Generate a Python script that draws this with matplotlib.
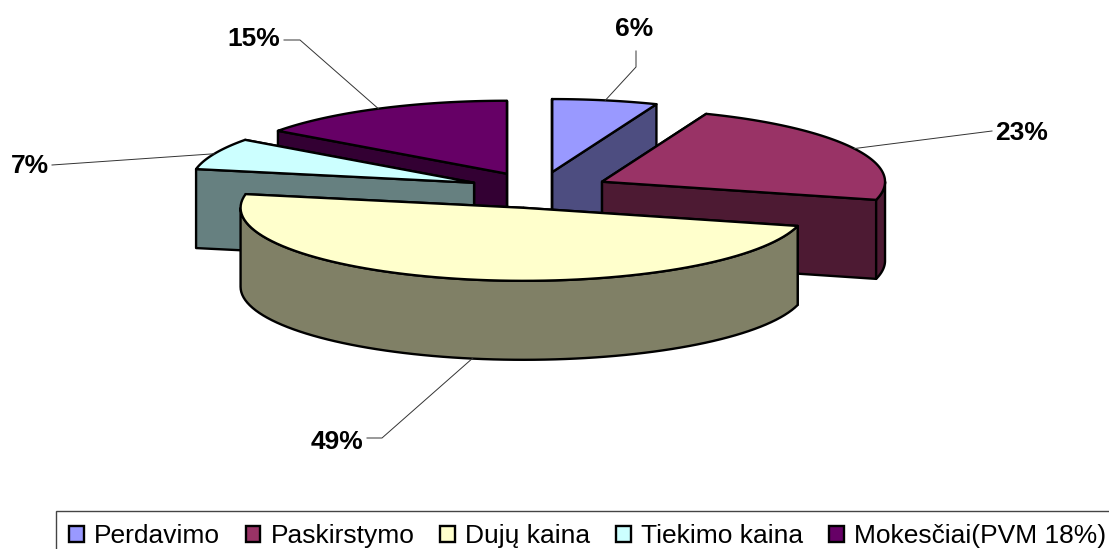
import numpy as np
import matplotlib
matplotlib.use('Agg')
import matplotlib.pyplot as plt
from matplotlib.patches import Polygon, Patch

plt.rcParams['font.family'] = ['Liberation Sans', 'DejaVu Sans']

categories = ['Perdavimo', 'Paskirstymo', 'Dujų kaina', 'Tiekimo kaina', 'Mokesčiai(PVM 18%)']
values = [6, 23, 49, 7, 15]
labels = ['6%', '23%', '49%', '7%', '15%']
top_colors = ['#9999FF', '#993366', '#FFFFCC', '#CCFFFF', '#660066']
side_colors = ['#4D4D80', '#4D1A33', '#808066', '#668080', '#330033']

# Geometria del pastel en pixeles de la figura
cx, cy = 539, 190
rx, ry = 283, 73
explode = 0.25
depth = 79

# Texto de cada etiqueta y el codo de su linea guia
label_pos = [(634, 29), (1022, 133), (337, 442), (30, 166), (254, 39)]
elbows = [[(636, 67), (636, 51)], [(992, 131)], [(382, 438), (367, 438)], [(52, 165)], [(300, 40), (284, 40)]]
guide_shift = [0, 0, 11, 0, 0]


def point(ax_, ay_, t):
    return ax_ + rx * np.sin(t), ay_ - ry * np.cos(t)


fig = plt.figure(figsize=(11.09, 5.49), dpi=100)
ax = fig.add_axes([0, 0, 1, 1])
ax.set_xlim(0, 1109)
ax.set_ylim(549, 0)
ax.axis('off')

edges = np.cumsum([0] + values) / sum(values) * 2 * np.pi
slices = []
for i in range(len(values)):
    mid = (edges[i] + edges[i + 1]) / 2
    # cada porcion se separa del centro sobre su bisectriz
    ax_ = cx + explode * rx * np.sin(mid)
    ay_ = cy - explode * ry * np.cos(mid)
    slices.append((ay_, i, ax_, mid))

# De atras hacia adelante
for ay_, i, ax_, mid in sorted(slices):
    t0, t1 = edges[i], edges[i + 1]
    p0 = point(ax_, ay_, t0)
    p1 = point(ax_, ay_, t1)
    faces = sorted([p0, p1], key=lambda p: p[1])
    for p in faces:
        quad = [(ax_, ay_), p, (p[0], p[1] + depth), (ax_, ay_ + depth)]
        ax.add_patch(Polygon(quad, closed=True, fc=side_colors[i], ec='black', lw=1.7, joinstyle='round'))

    # pared curva, solo la mitad frontal
    a, b = max(t0, np.pi / 2), min(t1, 3 * np.pi / 2)
    if a < b:
        ts = np.linspace(a, b, 80)
        xs, ys = point(ax_, ay_, ts)
        wall = list(zip(xs, ys)) + list(zip(xs[::-1], ys[::-1] + depth))
        ax.add_patch(Polygon(wall, closed=True, fc=side_colors[i], ec='black', lw=1.7, joinstyle='round'))

    ts = np.linspace(t0, t1, 80)
    xs, ys = point(ax_, ay_, ts)
    top = [(ax_, ay_)] + list(zip(xs, ys))
    ax.add_patch(Polygon(top, closed=True, fc=top_colors[i], ec='black', lw=1.7, joinstyle='round'))

    # linea guia desde la mitad del arco
    sx, sy = point(ax_, ay_, mid)
    if np.cos(mid) < 0:
        sy += depth
    guide = [(sx + guide_shift[i], sy)] + elbows[i]
    ax.plot([p[0] for p in guide], [p[1] for p in guide], color='#333333', lw=0.7, zorder=5)
    ax.text(label_pos[i][0], label_pos[i][1], labels[i], fontsize=19, fontweight='bold',
            ha='center', va='center', color='black')

handles = [Patch(fc=c, ec='black', lw=1.7) for c in top_colors]
ax.legend(handles, categories, ncol=5, loc='upper left', bbox_to_anchor=(56, 511), bbox_transform=ax.transData,
          borderaxespad=0, fontsize=19, frameon=True, fancybox=False, framealpha=1, edgecolor='#444444',
          handlelength=0.55, handleheight=0.55, handletextpad=0.4, columnspacing=0.97, borderpad=0.5)

fig.savefig('out.png', dpi=100)
